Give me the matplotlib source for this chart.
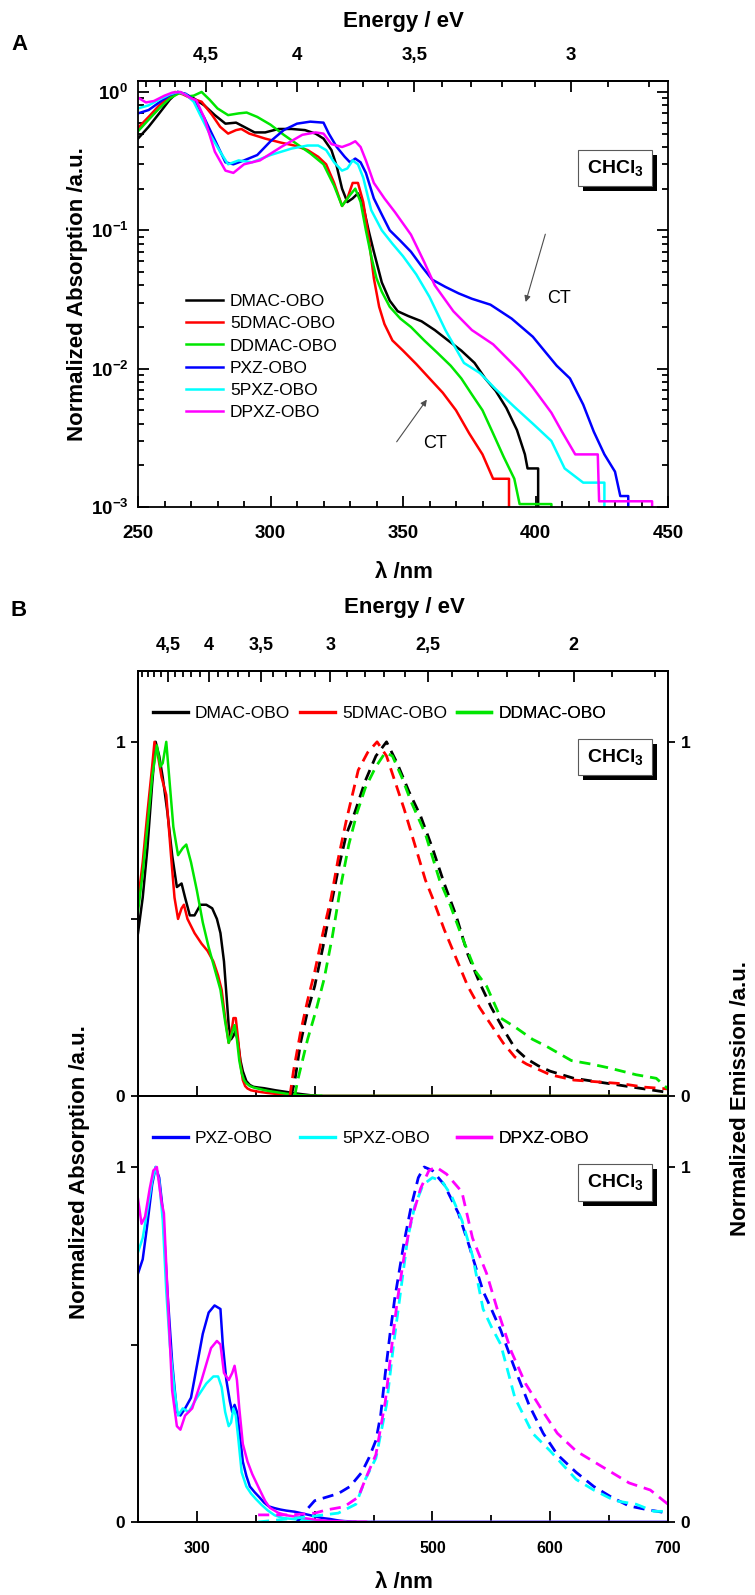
import numpy as np
import matplotlib
matplotlib.use("Agg")
import matplotlib.pyplot as plt
import matplotlib.patheffects as pe
from matplotlib.ticker import (FixedLocator, FixedFormatter, FuncFormatter,
                               MultipleLocator, LogLocator, NullFormatter)

plt.rcParams["font.family"] = ["Liberation Sans", "DejaVu Sans"]
plt.rcParams["font.weight"] = "bold"
plt.rcParams["mathtext.fontset"] = "custom"
plt.rcParams["mathtext.rm"] = "Liberation Sans"
plt.rcParams["mathtext.bf"] = "Liberation Sans:bold"
plt.rcParams["axes.linewidth"] = 1.3

names = ["DMAC-OBO", "5DMAC-OBO", "DDMAC-OBO", "PXZ-OBO", "5PXZ-OBO", "DPXZ-OBO"]
colors = ["#000000", "#ff0000", "#00e600", "#0000ff", "#00ffff", "#ff00ff"]

# absorption spectra (normalised)
dmac_wl = [250, 254, 258, 262, 265, 268, 271, 275, 279, 283, 287, 290, 294, 298, 303, 308, 313,
           317, 320, 323, 325, 327, 329, 331, 333, 335, 337, 339, 342, 345, 348, 352, 357, 362,
           367, 372, 377, 381, 385, 389, 393, 396, 397, 401, 401.5, 700]
dmac_ab = [0.46, 0.56, 0.7, 0.88, 1.0, 0.96, 0.9, 0.8, 0.68, 0.59, 0.6, 0.56, 0.51, 0.51, 0.54,
           0.54, 0.53, 0.5, 0.46, 0.38, 0.29, 0.2, 0.16, 0.17, 0.185, 0.15, 0.1, 0.07, 0.042,
           0.031, 0.026, 0.024, 0.022, 0.019, 0.016, 0.0135, 0.011, 0.0085, 0.0069, 0.0052,
           0.0036, 0.0024, 0.0019, 0.0019, 0, 0]

dmac5_wl = [250, 254, 258, 262, 264, 267, 270, 274, 278, 281, 284, 287, 289, 292, 298, 304, 309,
            314, 318, 321, 324, 327, 329, 331, 333, 335, 337, 339, 341, 343, 346, 350, 355, 360,
            365, 370, 375, 380, 384, 390, 390.5, 700]
dmac5_ab = [0.55, 0.66, 0.8, 0.93, 1.0, 0.96, 0.9, 0.85, 0.68, 0.56, 0.5, 0.53, 0.54, 0.5, 0.46,
            0.43, 0.41, 0.38, 0.34, 0.3, 0.22, 0.15, 0.17, 0.22, 0.22, 0.16, 0.09, 0.045, 0.028,
            0.021, 0.016, 0.0135, 0.0108, 0.0085, 0.0067, 0.005, 0.0034, 0.0024, 0.0016, 0.0016,
            0, 0]

ddmac_wl = [250, 254, 258, 262, 266, 269, 271, 274, 277, 280, 284, 288, 291, 295, 300, 305, 310,
            315, 320, 324, 327, 330, 332, 334, 336, 338, 340, 342, 345, 349, 353, 358, 363, 368,
            372, 376, 380, 384, 388, 392, 394, 406, 406.5, 700]
ddmac_ab = [0.52, 0.63, 0.76, 0.9, 0.99, 0.93, 0.94, 1.0, 0.88, 0.76, 0.68, 0.7, 0.71, 0.66, 0.58,
            0.49, 0.42, 0.36, 0.3, 0.21, 0.15, 0.18, 0.2, 0.16, 0.1, 0.065, 0.045, 0.036, 0.028,
            0.023, 0.02, 0.016, 0.013, 0.0105, 0.0085, 0.0065, 0.005, 0.0034, 0.0023, 0.0016,
            0.00105, 0.00105, 0, 0]

pxz_wl = [250, 254, 258, 262, 265, 268, 271, 275, 279, 283, 286, 290, 295, 300, 305, 310, 315,
          320, 322, 325, 328, 330, 332, 334, 336, 339, 342, 345, 349, 353, 357, 361, 366, 371,
          376, 383, 391, 399, 404, 408, 413, 418, 422, 426, 430, 432, 435, 435.5, 700]
pxz_ab = [0.7, 0.74, 0.84, 0.95, 1.0, 0.97, 0.88, 0.65, 0.45, 0.31, 0.3, 0.32, 0.35, 0.44, 0.53,
          0.59, 0.61, 0.6, 0.5, 0.4, 0.34, 0.31, 0.33, 0.31, 0.26, 0.17, 0.13, 0.1, 0.084, 0.07,
          0.055, 0.044, 0.039, 0.035, 0.032, 0.029, 0.023, 0.017, 0.013, 0.0105, 0.0085, 0.0055,
          0.0035, 0.0024, 0.0018, 0.0012, 0.0012, 0, 0]

pxz5_wl = [250, 254, 258, 262, 265, 268, 271, 274, 277, 281, 284, 288, 293, 300, 308, 314, 318,
           321, 324, 327, 329, 331, 333, 335, 338, 342, 346, 350, 355, 360, 366, 373, 379, 385,
           392, 399, 406, 411, 418, 426, 427.5, 700]
pxz5_ab = [0.76, 0.8, 0.88, 0.96, 1.0, 0.96, 0.85, 0.65, 0.5, 0.37, 0.3, 0.32, 0.31, 0.35, 0.39,
           0.41, 0.41, 0.38, 0.31, 0.27, 0.28, 0.32, 0.3, 0.24, 0.14, 0.1, 0.08, 0.065, 0.048,
           0.033, 0.019, 0.011, 0.0093, 0.0071, 0.0053, 0.004, 0.003, 0.0019, 0.0015, 0.0015,
           0, 0]

dpxz_wl = [250, 253, 256, 260, 263, 266, 270, 272, 275, 279, 283, 286, 290, 296, 304, 312, 317,
           320, 323, 327, 330, 332, 334, 336, 339, 343, 347, 353, 358, 362, 369, 376, 384, 391,
           394, 399, 406, 410, 415, 423.5, 424, 444, 444.5, 700]
dpxz_ab = [0.91, 0.84, 0.86, 0.94, 0.99, 1.0, 0.9, 0.87, 0.65, 0.37, 0.27, 0.26, 0.3, 0.32, 0.4,
           0.49, 0.51, 0.5, 0.42, 0.4, 0.42, 0.44, 0.4, 0.32, 0.22, 0.17, 0.135, 0.093, 0.059,
           0.04, 0.026, 0.019, 0.015, 0.011, 0.0096, 0.0073, 0.0048, 0.0035, 0.0024, 0.0024,
           0.0011, 0.0011, 0, 0]

# emission spectra (normalised)
em_dmac_wl = [380, 383, 388, 394, 400, 407, 414, 420, 427, 434, 443, 452, 461, 470, 480, 490, 500,
              510, 520, 530, 540, 550, 560, 570, 580, 590, 600, 620, 640, 660, 680, 700]
em_dmac = [0.0, 0.04, 0.15, 0.24, 0.31, 0.42, 0.54, 0.64, 0.74, 0.8, 0.89, 0.96, 1.0, 0.94, 0.86,
           0.79, 0.7, 0.6, 0.51, 0.4, 0.32, 0.25, 0.19, 0.135, 0.105, 0.085, 0.07, 0.05, 0.04,
           0.03, 0.02, 0.01]

em_dmac5_wl = [379, 382, 388, 394, 400, 407, 414, 420, 427, 437, 445, 453, 461, 470, 476, 485, 494,
               500, 510, 520, 530, 540, 550, 560, 570, 580, 590, 600, 620, 640, 660, 680, 700]
em_dmac5 = [0.0, 0.07, 0.18, 0.27, 0.35, 0.46, 0.56, 0.67, 0.78, 0.92, 0.97, 1.0, 0.96, 0.87,
            0.81, 0.71, 0.61, 0.56, 0.47, 0.39, 0.31, 0.25, 0.2, 0.15, 0.11, 0.09, 0.075, 0.06,
            0.045, 0.04, 0.035, 0.025, 0.02]

em_ddmac_wl = [383, 386, 394, 401, 408, 415, 422, 429, 436, 443, 452, 460, 466, 474, 482, 494, 506,
               515, 525, 537, 546, 558, 570, 585, 597, 618, 635, 649, 673, 690, 700]
em_ddmac = [0.0, 0.05, 0.16, 0.24, 0.33, 0.45, 0.59, 0.71, 0.8, 0.87, 0.93, 0.97, 0.96, 0.9, 0.83,
            0.74, 0.61, 0.54, 0.45, 0.35, 0.31, 0.22, 0.195, 0.16, 0.14, 0.1, 0.09, 0.08, 0.06,
            0.05, 0.02]

em_pxz_wl = [385, 392, 400, 410, 420, 430, 440, 446, 452, 456, 460, 464, 468, 472, 476, 482, 488,
             493, 500, 510, 522, 531, 543, 550, 558, 569, 582, 594, 606, 622, 637, 652, 667, 682,
             700]
em_pxz = [0.0, 0.03, 0.06, 0.07, 0.08, 0.1, 0.14, 0.18, 0.23, 0.3, 0.42, 0.53, 0.63, 0.71, 0.79,
          0.89, 0.97, 1.0, 0.99, 0.95, 0.87, 0.78, 0.65, 0.6, 0.54, 0.44, 0.33, 0.25, 0.19, 0.14,
          0.1, 0.07, 0.045, 0.035, 0.025]

em_pxz5_wl = [352, 395, 420, 435, 443, 452, 461, 467, 473, 479, 485, 492, 500, 508, 516, 525, 534,
              543, 550, 558, 570, 585, 600, 622, 637, 655, 673, 688, 700]
em_pxz5 = [0.0, 0.015, 0.025, 0.05, 0.12, 0.18, 0.33, 0.5, 0.65, 0.8, 0.89, 0.95, 0.97, 0.96,
           0.92, 0.85, 0.75, 0.6, 0.55, 0.5, 0.35, 0.25, 0.2, 0.12, 0.09, 0.06, 0.05, 0.03, 0.03]

em_dpxz_wl = [352, 380, 400, 410, 425, 437, 443, 452, 460, 466, 470, 476, 482, 490, 497, 503, 512,
              525, 534, 546, 555, 567, 579, 594, 606, 622, 637, 652, 667, 685, 700]
em_dpxz = [0.02, 0.02, 0.025, 0.034, 0.043, 0.07, 0.12, 0.19, 0.34, 0.51, 0.62, 0.75, 0.85, 0.94,
           0.99, 1.0, 0.98, 0.93, 0.8, 0.7, 0.6, 0.48, 0.39, 0.31, 0.25, 0.2, 0.17, 0.14, 0.11,
           0.09, 0.05]

abs_wl = [dmac_wl, dmac5_wl, ddmac_wl, pxz_wl, pxz5_wl, dpxz_wl]
abs_val = [dmac_ab, dmac5_ab, ddmac_ab, pxz_ab, pxz5_ab, dpxz_ab]
em_wl = [em_dmac_wl, em_dmac5_wl, em_ddmac_wl, em_pxz_wl, em_pxz5_wl, em_dpxz_wl]
em_val = [em_dmac, em_dmac5, em_ddmac, em_pxz, em_pxz5, em_dpxz]

ev_ticks_a = [4.5, 4, 3.5, 3]
ev_ticks_b = [4.5, 4, 3.5, 3, 2.5, 2]
# CT arrows in panel A: (tail, head) in data units, label position
ct_upper = ((404, 0.098), (396, 0.029), (404.5, 0.032))
ct_lower = ((347, 0.00285), (359.6, 0.0062), (357.5, 0.0029))

W, H = 755, 1595
fig = plt.figure(figsize=(W / 100, H / 100), dpi=100)


def px_axes(left, top, right, bottom):
    return fig.add_axes([left / W, 1 - bottom / H, (right - left) / W, (bottom - top) / H])


def nm2ev(x):
    x = np.asarray(x, dtype=float)
    with np.errstate(divide="ignore"):
        return 1239.84 / x


def comma(v, pos):
    return ("%g" % v).replace(".", ",")


def solvent_box(ax, x, y):
    t = ax.text(x, y, r"$\mathbf{CHCl_3}$", transform=ax.transAxes, ha="center", va="center",
                fontsize=14, zorder=5,
                bbox=dict(boxstyle="square,pad=0.42", fc="white", ec="0.35", lw=0.8))
    t.get_bbox_patch().set_path_effects(
        [pe.withSimplePatchShadow(offset=(3.6, -3.6), shadow_rgbFace="black", alpha=1.0)])


def energy_axis(ax, ticks, lo, hi, size):
    sec = ax.secondary_xaxis("top", functions=(nm2ev, nm2ev))
    sec.xaxis.set_major_locator(FixedLocator(ticks))
    sec.xaxis.set_major_formatter(FuncFormatter(comma))
    minors = [round(v, 1) for v in np.arange(lo, hi, 0.1) if round(v * 2, 1) % 1 != 0]
    sec.xaxis.set_minor_locator(FixedLocator(minors))
    sec.tick_params(which="both", direction="in", width=1.3, labelsize=size, pad=12)
    sec.tick_params(which="major", length=8)
    sec.tick_params(which="minor", length=4)
    return sec


# ---------------- panel A ----------------
axA = px_axes(138, 81, 668, 507)
for wl, ab, c, n in zip(abs_wl, abs_val, colors, names):
    axA.plot(wl, ab, color=c, lw=1.8, label=n)
axA.set_yscale("log")
axA.set_xlim(250, 450)
axA.set_ylim(1e-3, 1.2)
axA.xaxis.set_major_locator(MultipleLocator(50))
axA.xaxis.set_minor_locator(MultipleLocator(10))
axA.yaxis.set_major_locator(FixedLocator([1e-3, 1e-2, 1e-1, 1]))
axA.yaxis.set_major_formatter(FuncFormatter(lambda v, p: r"$\mathbf{10^{%d}}$" % round(np.log10(v))))
axA.yaxis.set_minor_locator(LogLocator(subs=np.arange(2, 10)))
axA.yaxis.set_minor_formatter(NullFormatter())
axA.tick_params(which="both", direction="in", top=False, right=True, width=1.3, labelsize=13.5)
axA.tick_params(which="major", length=8)
axA.tick_params(which="minor", length=4)
axA.tick_params(axis="x", pad=13)
axA.tick_params(axis="y", pad=7)
energy_axis(axA, ev_ticks_a, 2.8, 4.95, 13.5)

axA.legend(loc="upper left", bbox_to_anchor=(0.075, 0.52), frameon=False, borderpad=0,
           handlelength=2.1, handletextpad=0.4, labelspacing=0.4,
           prop={"weight": "normal", "size": 12.5})
solvent_box(axA, 0.9, 0.796)
for tail, head, lab in (ct_upper, ct_lower):
    axA.annotate("", xy=head, xytext=tail,
                 arrowprops=dict(arrowstyle="-|>", color="0.3", lw=0.8, mutation_scale=9))
    axA.text(lab[0], lab[1], "CT", fontsize=13, fontweight="normal", va="center")

# ---------------- panel B ----------------
axU = px_axes(138, 671, 668, 1096)
axL = px_axes(138, 1096, 668, 1522)

for ax, idx in ((axU, [0, 1, 2]), (axL, [3, 4, 5])):
    tw = ax.twinx()
    handles = []
    for i in idx:
        ln, = ax.plot(abs_wl[i], abs_val[i], color=colors[i], lw=1.8)
        tw.plot(em_wl[i], em_val[i], color=colors[i], lw=2, ls=(0, (4, 2.5)))
        handles.append(ln)
    for a in (ax, tw):
        a.set_xlim(250, 700)
        a.set_ylim(0, 1.2)
    ax.yaxis.set_major_locator(FixedLocator([0, 0.5, 1]))
    ax.yaxis.set_major_formatter(FixedFormatter(["0", "", "1"]))
    ax.tick_params(axis="y", direction="out", length=5, width=1.3, labelsize=12.5, pad=4)
    tw.yaxis.set_major_locator(FixedLocator([0, 1]))
    tw.yaxis.set_major_formatter(FixedFormatter(["0", "1"]))
    tw.tick_params(axis="y", direction="out", length=5, width=1.3, labelsize=12.5, pad=4)
    ax.xaxis.set_major_locator(MultipleLocator(100))
    ax.xaxis.set_minor_locator(MultipleLocator(50))
    # one legend per entry so the columns sit at fixed places
    for h, i, x0 in zip(handles, idx, (0.012, 0.29, 0.585)):
        leg = ax.legend([h], [names[i]], loc="center left", bbox_to_anchor=(x0, 0.9),
                        frameon=False, borderpad=0, handlelength=2.0, handletextpad=0.4,
                        prop={"weight": "normal", "size": 12.5})
        for lh in leg.get_lines():
            lh.set_linewidth(2.4)
        ax.add_artist(leg)
    solvent_box(ax, 0.9, 0.797)

axU.tick_params(axis="x", which="both", direction="inout", top=False, labelbottom=False, width=1.3)
axU.tick_params(axis="x", which="major", length=14)
axU.tick_params(axis="x", which="minor", length=8)
energy_axis(axU, ev_ticks_b, 1.8, 4.95, 13)

axL.spines["top"].set_visible(False)
axL.tick_params(axis="x", which="both", direction="in", top=False, width=1.3, labelsize=11.5, pad=14)
axL.tick_params(axis="x", which="major", length=8)
axL.tick_params(axis="x", which="minor", length=5)

# ---------------- figure texts ----------------
big = dict(fontsize=16, fontweight="bold", ha="center", va="center")
fig.text(19 / W, 1 - 45 / H, "A", **big)
fig.text(19 / W, 1 - 610 / H, "B", **big)
fig.text(403 / W, 1 - 22 / H, "Energy / eV", **big)
fig.text(404 / W, 1 - 608 / H, "Energy / eV", **big)
fig.text(404 / W, 1 - 573 / H, "λ /nm", **big)
fig.text(404 / W, 1 - 1583 / H, "λ /nm", **big)
fig.text(78 / W, 1 - 294 / H, "Normalized Absorption /a.u.", rotation=90, **big)
fig.text(80 / W, 1 - 1172 / H, "Normalized Absorption /a.u.", rotation=90, **big)
fig.text(740 / W, 1 - 1099 / H, "Normalized Emission /a.u.", rotation=90, **big)

fig.savefig("out.png", dpi=100)
